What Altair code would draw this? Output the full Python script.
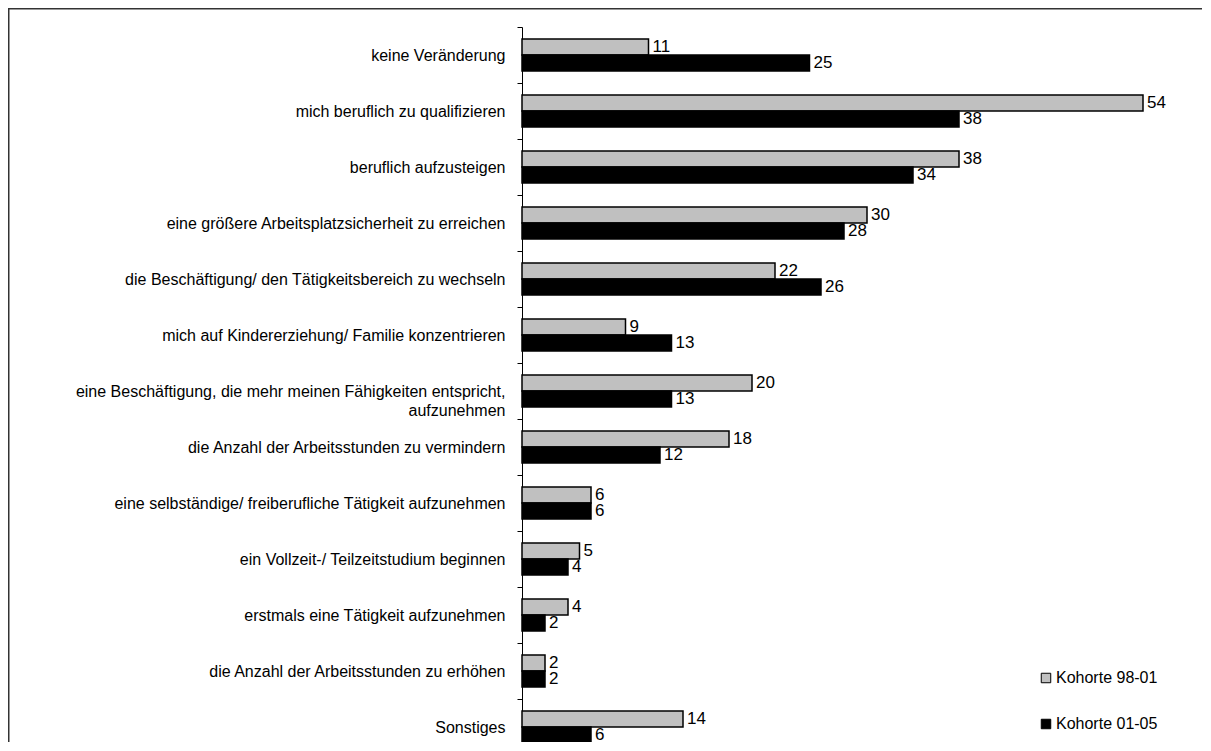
import altair as alt
import pandas as pd

categories = [
    "keine Veränderung",
    "mich beruflich zu qualifizieren",
    "beruflich aufzusteigen",
    "eine größere Arbeitsplatzsicherheit zu erreichen",
    "die Beschäftigung/ den Tätigkeitsbereich zu wechseln",
    "mich auf Kindererziehung/ Familie konzentrieren",
    "eine Beschäftigung, die mehr meinen Fähigkeiten entspricht,|aufzunehmen",
    "die Anzahl der Arbeitsstunden zu vermindern",
    "eine selbständige/ freiberufliche Tätigkeit aufzunehmen",
    "ein Vollzeit-/ Teilzeitstudium beginnen",
    "erstmals eine Tätigkeit aufzunehmen",
    "die Anzahl der Arbeitsstunden zu erhöhen",
    "Sonstiges",
]
series = ["Kohorte 98-01", "Kohorte 01-05"]
values_98_01 = [11, 54, 38, 30, 22, 9, 20, 18, 6, 5, 4, 2, 14]
values_01_05 = [25, 38, 34, 28, 26, 13, 13, 12, 6, 4, 2, 2, 6]
colors = ["#c0c0c0", "#000000"]

rows = []
for c, a, b in zip(categories, values_98_01, values_01_05):
    rows.append({"cat": c, "series": series[0], "val": a})
    rows.append({"cat": c, "series": series[1], "val": b})
df = pd.DataFrame(rows)

FONT = "Liberation Sans"
W, H = 680, 715
AXIS_X = 514
TOP = 19

y_scale = alt.Scale(paddingInner=0, paddingOuter=0, range=[0, 728])
y_axis = alt.Axis(
    title=None,
    labelExpr="split(datum.label, '|')",
    labelFont=FONT,
    labelFontSize=16,
    labelColor="#000000",
    labelLineHeight=19,
    labelPadding=12,
    labelLimit=600,
    tickBand="extent",
    tickSize=5,
    tickColor="#000000",
    domainColor="#000000",
    domainWidth=1,
    grid=False,
)
y_enc = alt.Y("cat:N", sort=categories, scale=y_scale, axis=y_axis)
yoff = alt.YOffset("series:N", sort=series, scale=alt.Scale(paddingOuter=0.75, paddingInner=0))
x_enc = alt.X("val:Q", scale=alt.Scale(domain=[0, W / 11.5], nice=False, zero=True), axis=None)

bars = alt.Chart(df).mark_bar(stroke="#000000", strokeWidth=1.5).encode(
    x=x_enc,
    y=y_enc,
    yOffset=yoff,
    color=alt.Color(
        "series:N",
        sort=series,
        scale=alt.Scale(domain=series, range=colors),
        legend=alt.Legend(
            title=None,
            orient="none",
            legendX=516,
            legendY=643,
            symbolType="square",
            symbolSize=90,
            symbolStrokeColor="#000000",
            symbolStrokeWidth=1,
            labelFont=FONT,
            labelFontSize=16,
            labelColor="#000000",
            labelOffset=2,
            labelLimit=300,
            rowPadding=30,
        ),
    ),
)

labels = alt.Chart(df).mark_text(
    align="left", baseline="middle", dx=4, font=FONT, fontSize=17, color="#000000"
).encode(
    x=x_enc,
    y=y_enc,
    yOffset=yoff,
    text="val:Q",
)

frame_data = alt.Data(values=[{"k": 1}])
frame_top = alt.Chart(frame_data).mark_rule(color="#333333", strokeWidth=2).encode(
    x=alt.value(-AXIS_X), x2=alt.value(W + 50), y=alt.value(-TOP + 0.5)
)
frame_left = alt.Chart(frame_data).mark_rule(color="#333333", strokeWidth=2).encode(
    x=alt.value(-AXIS_X + 0.5), y=alt.value(-TOP), y2=alt.value(H + 60)
)

chart = alt.layer(bars, labels, frame_top, frame_left).properties(
    width=W,
    height=H,
    autosize=alt.AutoSizeParams(type="none"),
    padding={"left": AXIS_X, "top": TOP, "right": 0, "bottom": 0},
).configure(background="#ffffff", view=alt.ViewConfig(stroke=None))

chart.save("out.html", embed_options={"renderer": "svg", "actions": False})
